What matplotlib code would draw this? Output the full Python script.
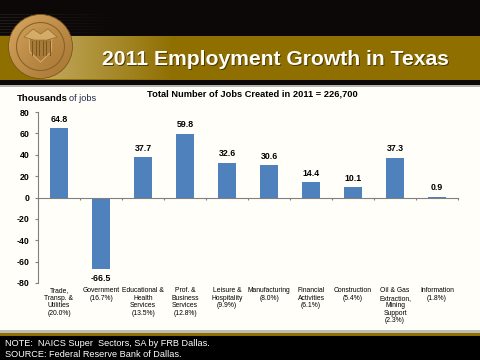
import matplotlib
matplotlib.use('Agg')
import matplotlib.pyplot as plt
import matplotlib.patches as patches
import numpy as np

plt.rcParams['font.family'] = ['Liberation Sans', 'DejaVu Sans']

categories = ['Trade,\nTransp. &\nUtilities\n(20.0%)', 'Government\n(16.7%)',
              'Educational &\nHealth\nServices\n(13.5%)', 'Prof. &\nBusiness\nServices\n(12.8%)',
              'Leisure &\nHospitality\n(9.9%)', 'Manufacturing\n(8.0%)',
              'Financial\nActivities\n(6.1%)', 'Construction\n(5.4%)',
              'Oil & Gas\nExtraction,\nMining\nSupport\n(2.3%)', 'Information\n(1.8%)']
values = [64.8, -66.5, 37.7, 59.8, 32.6, 30.6, 14.4, 10.1, 37.3, 0.9]
y_ticks = [80, 60, 40, 20, 0, -20, -40, -60, -80]

W, H = 480, 360
fig = plt.figure(figsize=(W / 100, H / 100), dpi=100, facecolor='#fffef9')

# background layer in pixel coords, y going down
bg = fig.add_axes([0, 0, 1, 1], zorder=0)
bg.axis('off')

bg.add_patch(patches.Rectangle((0, 0), W, 36, color='#0c0808', lw=0))
bg.add_patch(patches.Rectangle((0, 36), W, 44, color='#8f6f00', lw=0))
bg.add_patch(patches.Rectangle((0, 80), W, 5, color='#0c0808', lw=0))
bg.add_patch(patches.Rectangle((0, 85), W, 2, color='#b5b5b0', lw=0))

# lighter glow behind the seal
glow = np.zeros((1, 200, 4))
glow[..., :3] = matplotlib.colors.to_rgb('#c4aa60')
glow[..., 3] = np.linspace(1, 0, 200)
bg.imshow(glow, extent=(40, 175, 79.5, 36.5), aspect='auto', zorder=1)

# faint stripes above the band, left side
stripe = np.zeros((1, 200, 4))
stripe[..., :3] = 1
stripe[..., 3] = np.linspace(0.08, 0, 200)
for yy in range(14, 36, 3):
    bg.imshow(stripe, extent=(0, 125, yy + 1, yy), aspect='auto', zorder=1)

# seal, shaded medal
seal_x, seal_y, seal_r = 40.5, 46.5, 32
gx, gy = np.meshgrid(np.linspace(-1, 1, 130), np.linspace(-1, 1, 130))
shade = np.clip(0.55 - 0.35 * (gx + gy) / 2 + 0.1 * np.hypot(gx, gy), 0, 1)
dark = np.array(matplotlib.colors.to_rgb('#8f5f1c'))
light = np.array(matplotlib.colors.to_rgb('#d8a862'))
medal = dark + (light - dark) * shade[..., None]
im = bg.imshow(medal, extent=(seal_x - seal_r, seal_x + seal_r, seal_y + seal_r, seal_y - seal_r),
               aspect='auto', zorder=2)
im.set_clip_path(patches.Circle((seal_x, seal_y), seal_r, transform=bg.transData))
bg.add_patch(patches.Circle((seal_x, seal_y), seal_r, fc='none', ec='#7a561e', lw=0.6, zorder=3))
bg.add_patch(patches.Circle((seal_x, seal_y), 24, fc='none', ec='#8a6228', lw=0.8, zorder=3))
bg.add_patch(patches.Polygon([(29, 38), (52, 38), (51, 52), (40.5, 62), (30, 52)],
                             fc='#a87a38', ec='#e4c488', lw=0.5, zorder=3))
for sx in np.arange(32, 51, 3.5):
    bg.plot([sx, sx], [41, 55], color='#7a5420', lw=0.7, zorder=4)
bg.add_patch(patches.Polygon([(24, 37), (33, 29), (40.5, 34), (48, 29), (57, 37), (47, 40), (34, 40)],
                             fc='#d4ac68', ec='#8a6228', lw=0.4, zorder=4))
bg.set_xlim(0, W)
bg.set_ylim(H, 0)

# title with drop shadow
title = '2011 Employment Growth in Texas'
bg.text(276.3, 60.6, title, color='#4a3a08', fontsize=15.2, fontweight='bold',
        ha='center', va='center', zorder=4)
bg.text(275.5, 59.5, title, color='#fffdf5', fontsize=15.2, fontweight='bold',
        ha='center', va='center', zorder=5)

# footer
bg.add_patch(patches.Rectangle((0, 330), W, 3, color='#bdbdb8', lw=0))
bg.add_patch(patches.Rectangle((0, 333), W, 3, color='#8f6f00', lw=0))
bg.add_patch(patches.Rectangle((0, 336), W, 24, color='#000000', lw=0))
bg.text(5, 343.5, 'NOTE:  NAICS Super  Sectors, SA by FRB Dallas.', color='white', fontsize=6.55, va='center')
bg.text(5, 354.5, 'SOURCE: Federal Reserve Bank of Dallas.', color='white', fontsize=6.55, va='center')

bg.text(17, 98.5, 'Thousands', color='black', fontsize=6.8, fontweight='bold', va='center')
bg.text(69, 98.5, 'of jobs', color='#1f2a44', fontsize=6.6, va='center')
bg.text(147, 94.5, 'Total Number of Jobs Created in 2011 = 226,700', color='black', fontsize=6.7,
        fontweight='bold', va='center')

# chart
left, right, top, bottom = 38, 458, 112, 283
ax = fig.add_axes([left / W, 1 - bottom / H, (right - left) / W, (bottom - top) / H], zorder=2)
ax.patch.set_alpha(0)
x = np.arange(len(values))
ax.bar(x, values, width=0.41, color='#4f81bd')
ax.set_xlim(-0.5, len(values) - 0.5)
ax.set_ylim(-80, 80)

# spine moves reset the ticks, so do them first
for s in ['top', 'right']:
    ax.spines[s].set_visible(False)
ax.spines['left'].set_color('#808080')
ax.spines['left'].set_linewidth(0.8)
ax.spines['bottom'].set_position(('data', 0))
ax.spines['bottom'].set_color('#808080')
ax.spines['bottom'].set_linewidth(0.8)

ax.set_yticks(y_ticks)
ax.set_yticklabels([str(v) for v in y_ticks], fontsize=6.3, fontweight='bold')
ax.tick_params(axis='y', length=2.5, width=0.8, color='#808080', pad=3.5)
ax.set_xticks(np.arange(len(values) + 1) - 0.5)
ax.set_xticklabels([])
ax.tick_params(axis='x', length=1.5, width=0.8, color='#808080', direction='out')

for i, v in enumerate(values):
    if v >= 0:
        ax.annotate(f'{v}', (i, v), xytext=(0, 3), textcoords='offset points', ha='center',
                    va='bottom', fontsize=6.3, fontweight='bold')
    else:
        ax.annotate(f'{v}', (i, v), xytext=(0, -4), textcoords='offset points', ha='center',
                    va='top', fontsize=6.3, fontweight='bold')
    ax.annotate(categories[i], (i, -80), xytext=(0, -3), textcoords='offset points', ha='center',
                va='top', fontsize=4.9, linespacing=1.1, annotation_clip=False)

fig.savefig('out.png', dpi=100, facecolor=fig.get_facecolor())
